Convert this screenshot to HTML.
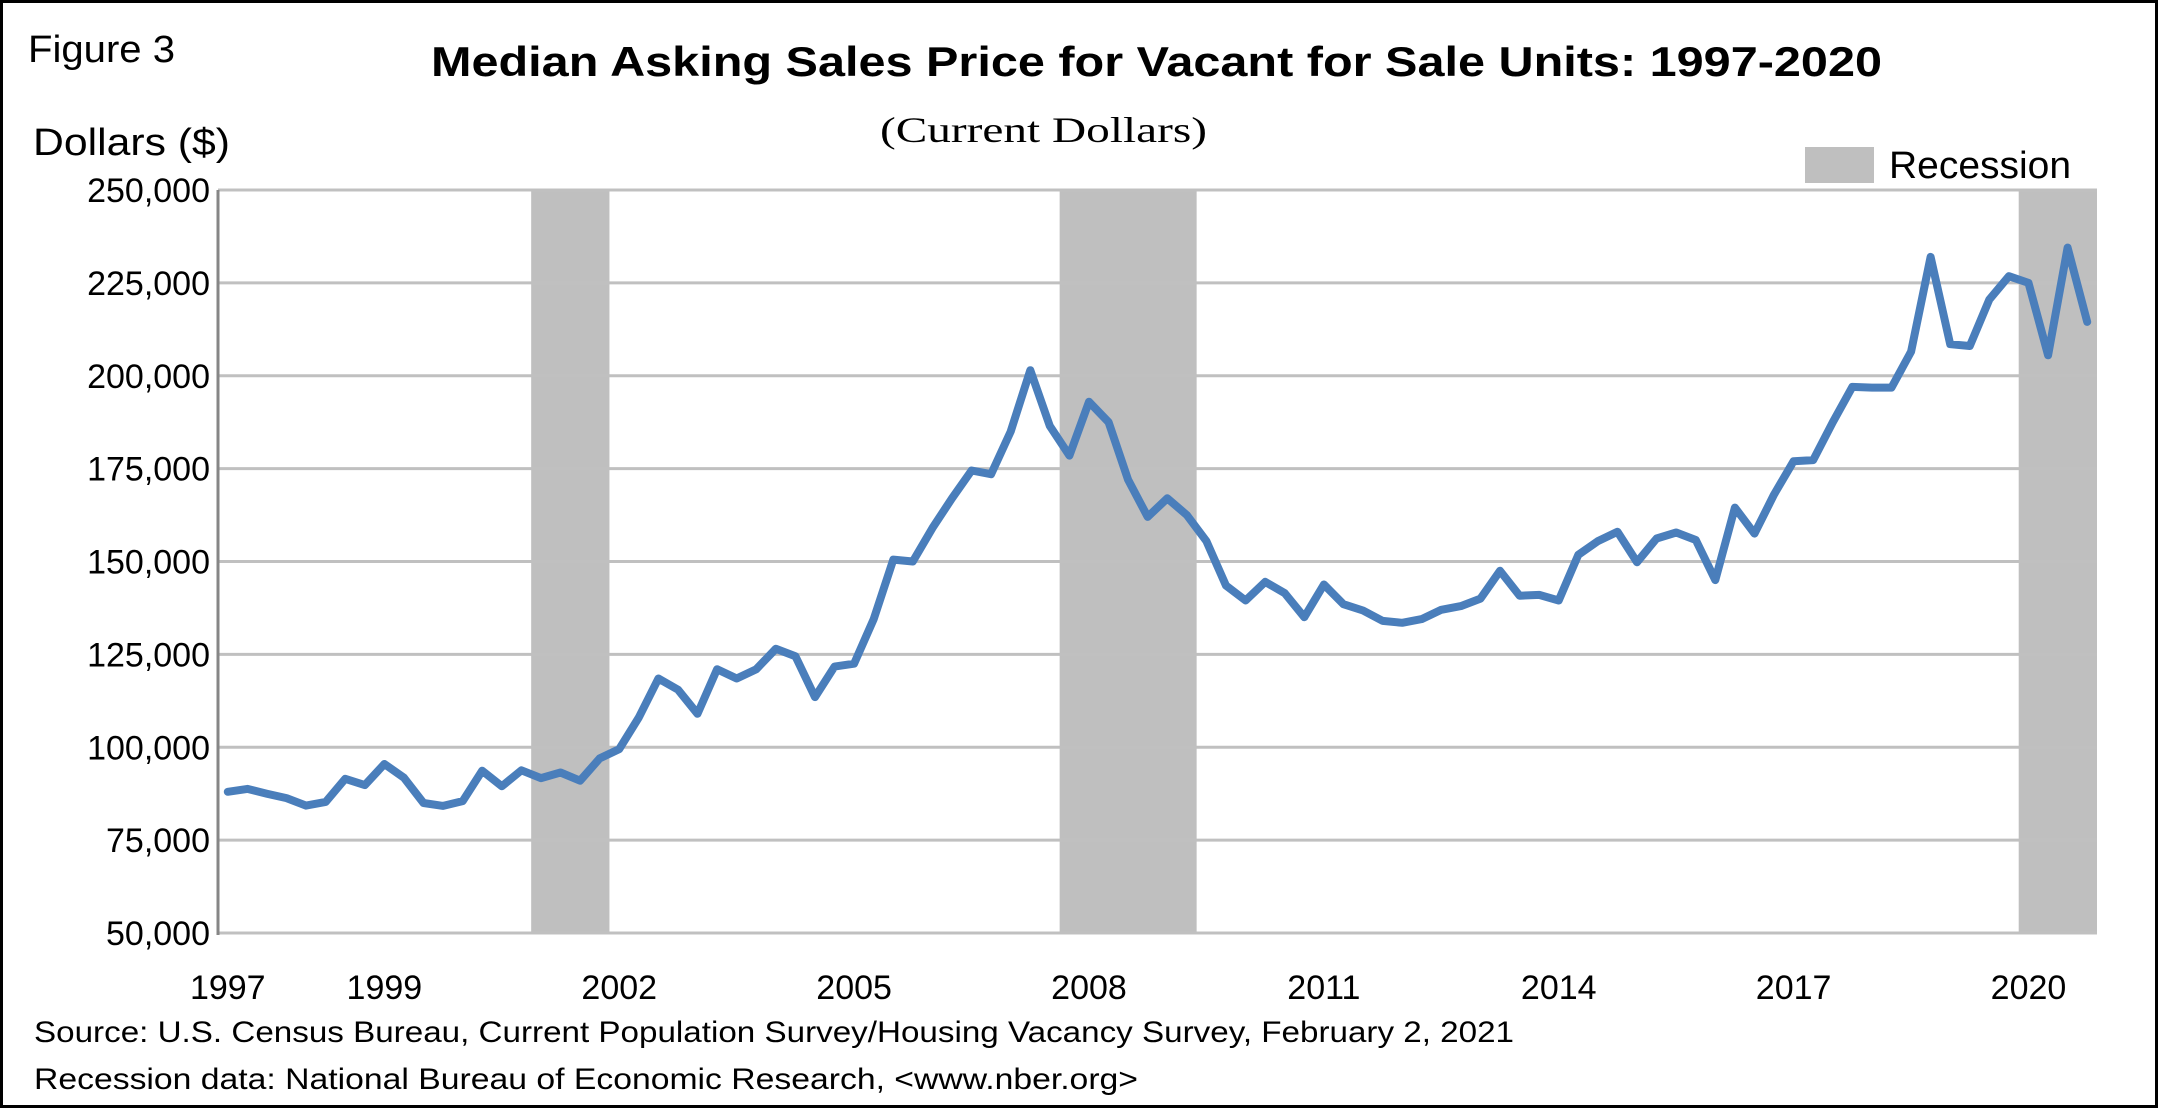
<!DOCTYPE html>
<html><head><meta charset="utf-8"><style>
html,body{margin:0;padding:0;background:#fff}
svg{display:block}
text{font-family:"Liberation Sans",sans-serif;fill:#000}
</style></head><body>
<svg id="chart" width="2158" height="1108" viewBox="0 0 2158 1108" xmlns="http://www.w3.org/2000/svg">
<rect x="1.5" y="1.5" width="2155" height="1105" fill="#fff" stroke="#000" stroke-width="3"/>
<text x="28" y="62" font-size="38" textLength="147" lengthAdjust="spacingAndGlyphs">Figure 3</text>
<text x="431" y="76" font-size="42" font-weight="bold" textLength="1451" lengthAdjust="spacingAndGlyphs">Median Asking Sales Price for Vacant for Sale Units: 1997-2020</text>
<text x="880" y="142" font-size="36" style="font-family:'Liberation Serif',serif" textLength="327" lengthAdjust="spacingAndGlyphs">(Current Dollars)</text>
<text x="33" y="155" font-size="38" textLength="197" lengthAdjust="spacingAndGlyphs">Dollars ($)</text>
<rect x="1805" y="147" width="69" height="36" fill="#bfbfbf"/>
<text x="1889" y="178" font-size="38" textLength="182" lengthAdjust="spacingAndGlyphs">Recession</text>
<g id="bands"></g><g id="grid"></g><g id="axes"></g><g id="series"></g>
<text x="34" y="1042" font-size="30" textLength="1480" lengthAdjust="spacingAndGlyphs">Source: U.S. Census Bureau, Current Population Survey/Housing Vacancy Survey, February 2, 2021</text>
<text x="34" y="1089" font-size="30" textLength="1104" lengthAdjust="spacingAndGlyphs">Recession data: National Bureau of Economic Research, &lt;www.nber.org&gt;</text>
</svg>
<script>
const years = [1997,1998,1999,2000,2001,2002,2003,2004,2005,2006,2007,2008,2009,2010,2011,2012,2013,2014,2015,2016,2017,2018,2019,2020];
const prices = [
88000,88800,87500,86300, 84300,85300,91500,89800, 95500,91800,85000,84200, 85500,93700,89500,93800,
91700,93200,91000,97000, 99500,108000,118500,115500, 109000,121000,118500,121000, 126500,124500,113500,121700,
122500,134500,150500,150000, 159000,167000,174500,173500, 185000,201500,186500,178500, 193000,187500,172000,162000,
167000,162500,155500,143500, 139500,144500,141500,135000, 143800,138500,136800,134000, 133500,134500,137000,138000,
140000,147500,140800,141000, 139500,151800,155500,158000, 149800,156200,157800,155800, 145000,164500,157500,168000,
177000,177300,187500,197000, 196800,196800,206500,232000, 208500,208000,220500,226800, 225000,205500,234500,214500];
const recessionStart = [16,43,92];
const recessionEnd = [20,50,96];
const yTicks = [50000,75000,100000,125000,150000,175000,200000,225000,250000];
const xTickYears = [1997,1999,2002,2005,2008,2011,2014,2017,2020];

const NS="http://www.w3.org/2000/svg";
const L=218,R=2097,T=190,B=933,N=prices.length;
const qw=(R-L)/N;
const xEdge=i=>L+i*qw;
const xPos=i=>L+(i+0.5)*qw;
const yPos=v=>B-(v-50000)/200000*(B-T);
function mk(tag,attrs,parent){const e=document.createElementNS(NS,tag);for(const k in attrs)e.setAttribute(k,attrs[k]);parent.appendChild(e);return e;}
const bands=document.getElementById('bands'),grid=document.getElementById('grid'),axes=document.getElementById('axes'),series=document.getElementById('series');
recessionStart.forEach((s,k)=>{
 const r=mk('rect',{x:xEdge(s),y:T,width:xEdge(recessionEnd[k])-xEdge(s),height:B-T,fill:'#bfbfbf'},bands);
 
 
});
yTicks.forEach(v=>{
 if(v>50000){const g=mk('line',{x1:L,x2:R,y1:yPos(v),y2:yPos(v),stroke:'#c0c0c0','stroke-width':3},grid);
 
 }
 const t=mk('text',{x:210,y:yPos(v)+12,'font-size':34,'text-anchor':'end'},axes);
 t.textContent=v.toLocaleString('en-US');
 
 
});
const xa=mk('line',{x1:L,x2:R,y1:B,y2:B,stroke:'#c0c0c0','stroke-width':3},axes);


const ya=mk('line',{x1:L,x2:L,y1:T,y2:B+2,stroke:'#868686','stroke-width':3},axes);


xTickYears.forEach(y=>{
 const i=years.indexOf(y)*4;
 const t=mk('text',{x:xPos(i),y:999,'font-size':34,'text-anchor':'middle'},axes);
 t.textContent=y;
 
 
});
const pts=prices.map((v,i)=>xPos(i).toFixed(1)+','+yPos(v).toFixed(1)).join(' ');
const pl=mk('polyline',{points:pts,fill:'none',stroke:'#4a7ebb','stroke-width':8,'stroke-linejoin':'round','stroke-linecap':'round'},series);


</script>
</body></html>
